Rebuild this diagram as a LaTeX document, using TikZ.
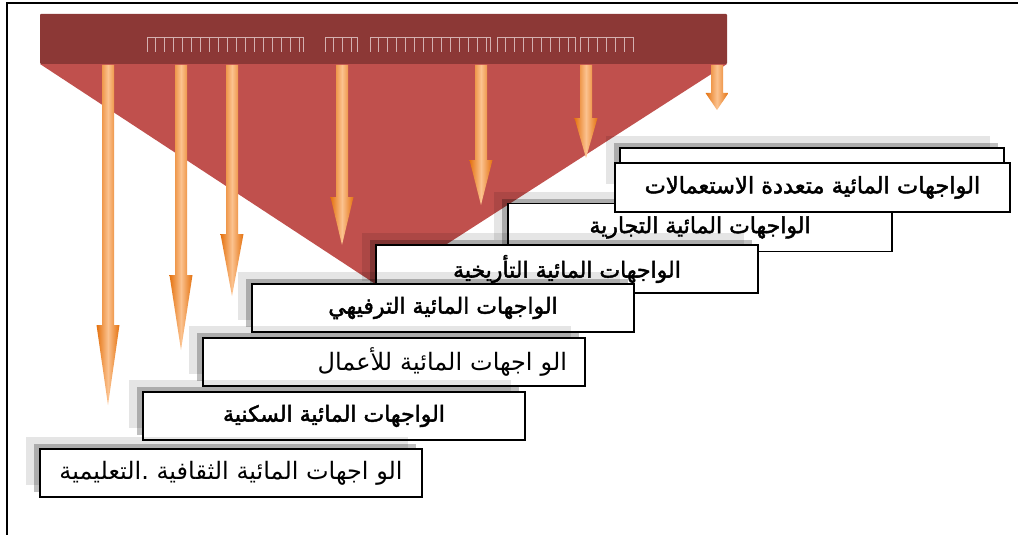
\documentclass[tikz,border=0pt]{standalone}
\usepackage{fontspec}
\newfontfamily\arabicfont[Script=Arabic]{DejaVu Sans}
\newfontfamily\arabicbold[Script=Arabic, FakeBold=2]{DejaVu Sans}
\TeXXeTstate=1
\usetikzlibrary{shadows}
\definecolor{headred}{HTML}{8C3836}
\definecolor{trired}{HTML}{C0504D}
\definecolor{arrdark}{HTML}{E4720F}
\definecolor{arrlight}{HTML}{FBC28F}
\definecolor{tofu}{HTML}{D4B0B0}
\tikzset{
  facade/.style={draw=black, line width=1.5pt, fill=white, inner sep=0pt,
    minimum height=48pt, font=\arabicfont\fontsize{24}{26}\selectfont,
    general shadow={fill=black, opacity=0.1, shadow xshift=-14pt, shadow yshift=12pt},
    general shadow={fill=black, opacity=0.25, shadow xshift=-6pt, shadow yshift=5pt}},
  facadeplain/.style={draw=black, line width=1.5pt, fill=white, inner sep=0pt,
    minimum height=49pt},
  boldlabel/.style={font=\arabicbold\fontsize{22}{24}\selectfont}
}
\newcommand{\ar}[1]{\beginR #1\endR}
\begin{document}
\begin{tikzpicture}[x=1pt,y=-1pt]
\useasboundingbox (0,0) rectangle (1018,535);
\draw[line width=2pt] (7,535) -- (7,3) -- (1018,3);
\fill[trired] (40,64) -- (727,64) -- (380,287) -- cycle;
\fill[headred, rounded corners=1pt] (40,14) rectangle (727,64);
\foreach \a/\b in {147/303, 325/357, 370/490, 497/575, 580/633}{
  \draw[tofu, line width=0.6pt] (\a,52) -- (\a,37) -- (\b,37) -- (\b,52);
  \foreach \t in {\a,...,\b}{
    \pgfmathtruncatemacro{\m}{mod(\t-\a,9)}
    \ifnum\m=8 \draw[tofu, line width=0.6pt] (\t,37) -- (\t,52);\fi
  }
}
\foreach \x/\tip/\hl in {108/405/80, 181/350/75, 232/296/62, 342/245/48, 481/205/45, 586/158/40, 717/110/17}{
  \shade[left color=arrdark, right color=arrdark, middle color=arrlight]
    ({\x-6},65) -- ({\x+6},65) -- ({\x+6},{\tip-\hl}) -- ({\x+11.5},{\tip-\hl})
    -- (\x,\tip) -- ({\x-11.5},{\tip-\hl}) -- ({\x-6},{\tip-\hl}) -- cycle;
}
\node[facade, minimum width=384pt] (multiback) at (812,172) {};
\node[facade, boldlabel, minimum width=384pt] (trade) at (700,227.5) {\ar{الواجهات المائية التجارية}};
\node[facadeplain, minimum width=395pt, font=\arabicbold\fontsize{22.5}{24}\selectfont] (multi) at (812.5,187.5) {\ar{الواجهات المائية متعددة الاستعمالات}};
\node[facade, boldlabel, minimum width=382pt] (history) at (567,269) {\ar{الواجهات المائية التأريخية}};
\node[facade, boldlabel, minimum width=382pt] (leisure) at (443,308) {\ar{الواجهات المائية الترفيهي}};
\node[facade, text width=346pt, inner xsep=18pt, align=right] (business) at (394,362) {\ar{الو اجهات المائية للأعمال}};
\node[facade, boldlabel, minimum width=382pt] (housing) at (334,416) {\ar{الواجهات المائية السكنية}};
\node[facade, minimum width=382pt] (culture) at (231,473) {\ar{الو اجهات المائية الثقافية .التعليمية}};
\end{tikzpicture}
\end{document}
